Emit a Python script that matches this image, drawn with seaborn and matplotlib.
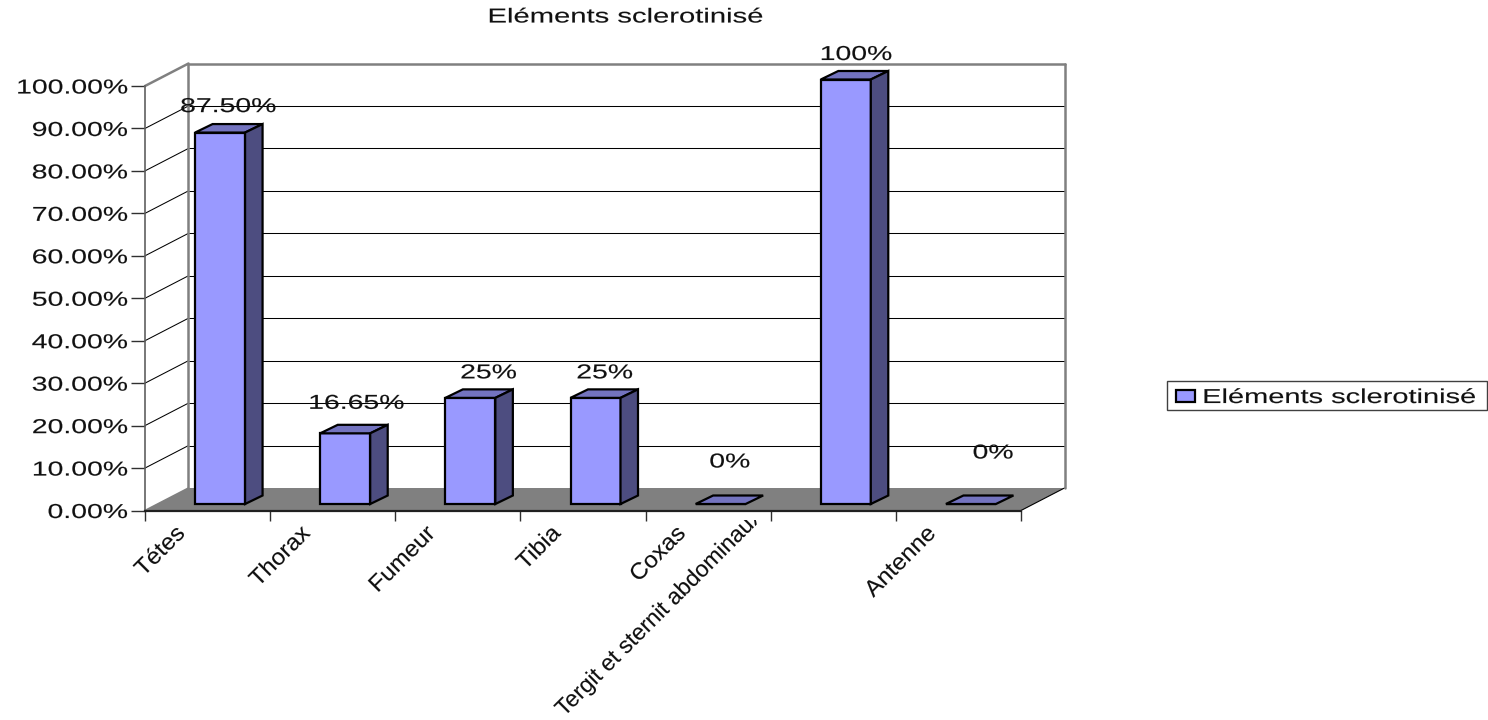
import numpy as np
import pandas as pd
import matplotlib
matplotlib.use("Agg")
import matplotlib.pyplot as plt
import seaborn as sns
from matplotlib.patches import Patch, Rectangle
from matplotlib.patheffects import AbstractPathEffect
from matplotlib.transforms import Affine2D, Bbox, ScaledTranslation

categories = ["Tétes", "Thorax", "Fumeur", "Tibia", "Coxas",
              "Tergit et sternit abdominaux", "Antenne"]
values = [87.5, 16.65, 25, 25, 0, 100, 0]
value_labels = ["87.50%", "16.65%", "25%", "25%", "0%", "100%", "0%"]
y_levels = [0, 10, 20, 30, 40, 50, 60, 70, 80, 90, 100]
series_name = "Eléments sclerotinisé"

# layout, in pixels
W, H = 1488, 720
LEFT, RIGHT, BOTTOM, TOP = 145, 1021, 510.5, 86
WALL_DX, WALL_DY = 43.5, 22.5
BAR_DX, BAR_DY = 12.5, 6.5
DEPTH_DX, DEPTH_DY = 17.5, 8.5
BAR_W = 50
label_shift_x = [8, 11, 18, 9, 9, 10, 22]
label_shift_y = [26, 30, 25, 25, 42, 25, 51]

FRONT, SIDE, TOPC = "#9999FF", "#4D4D80", "#7373BF"
GREY = "#808080"
FS = 14.5
FS_CAT = 16.5


class Stretch(AbstractPathEffect):
    """Widen glyphs along the baseline, keeping one end of the text fixed."""
    def __init__(self, fx, anchor=0.5, weight=0.1):
        super().__init__()
        self.fx, self.anchor, self.weight = fx, anchor, weight

    def draw_path(self, renderer, gc, tpath, affine, rgbFace=None):
        a = tpath.get_extents().x1 * self.anchor
        t = Affine2D().translate(-a, 0).scale(self.fx, 1).translate(a, 0)
        gc0 = renderer.new_gc()
        gc0.copy_properties(gc)
        gc0.set_linewidth(self.weight)
        gc0.set_foreground(rgbFace)
        renderer.draw_path(gc0, tpath, t + affine, rgbFace)
        gc0.restore()


sns.set_style("white")
plt.rcParams["font.family"] = ["Liberation Sans", "DejaVu Sans"]

fig = plt.figure(figsize=(W / 100, H / 100), dpi=100)
ax = fig.add_axes([LEFT / W, 1 - BOTTOM / H, (RIGHT - LEFT) / W, (BOTTOM - TOP) / H])
ax.set_facecolor("none")

df = pd.DataFrame({"part": categories, "value": values})
sns.barplot(data=df, x="part", y="value", color=FRONT, saturation=1,
            width=BAR_W / ((RIGHT - LEFT) / 7), edgecolor="black", linewidth=1.6,
            ax=ax, zorder=3)
ax.set_xlim(-0.5, 6.5)
ax.set_ylim(0, 100)
ax.set_xlabel("")
ax.set_ylabel("")

ux = 7 / (RIGHT - LEFT)       # data units per pixel, x
uy = 100 / (BOTTOM - TOP)     # data units per pixel, y

# floor
x0, x1 = -0.5, 6.5
wx, wy = WALL_DX * ux, WALL_DY * uy
ax.fill([x0, x0 + wx, x1 + wx, x1], [0, wy, wy, 0], color=GREY, lw=0, zorder=0.5, clip_on=False)
ax.plot([x1, x1 + wx], [0, wy], color="black", lw=0.8, zorder=1, clip_on=False)
ax.plot([x0, x0 + wx], [0, wy], color=GREY, lw=1.2, zorder=1, clip_on=False)

# back wall rules and side wall rules
for lv in y_levels[1:-1]:
    ax.plot([x0 + wx, x1 + wx], [lv + wy, lv + wy], color="black", lw=0.75, zorder=1, clip_on=False)
    ax.plot([x0, x0 + wx], [lv, lv + wy], color="black", lw=0.75, zorder=1, clip_on=False)
ax.plot([x0, x0 + wx, x0 + wx], [100, 100 + wy, wy], color=GREY, lw=1.8, zorder=1, clip_on=False)
ax.plot([x1 + wx, x1 + wx], [wy, 100 + wy], color=GREY, lw=1.8, zorder=1, clip_on=False)
ax.plot([x0 + wx, x1 + wx], [100 + wy, 100 + wy], color=GREY, lw=1.8, zorder=1, clip_on=False)

# 3D bars
bdx, bdy = BAR_DX * ux, BAR_DY * uy
ddx, ddy = DEPTH_DX * ux, DEPTH_DY * uy
for i, bar in enumerate(ax.patches[:len(values)]):
    bar.set_x(bar.get_x() + bdx)
    bar.set_y(bar.get_y() + bdy)
    bar.set_clip_on(False)
    bx, by, bw, bh = bar.get_x(), bar.get_y(), bar.get_width(), bar.get_height()
    ax.fill([bx, bx + ddx, bx + bw + ddx, bx + bw], [by + bh, by + bh + ddy, by + bh + ddy, by + bh],
            facecolor=TOPC, edgecolor="black", lw=1.6, zorder=3, clip_on=False)
    if bh > 0:
        ax.fill([bx + bw, bx + bw + ddx, bx + bw + ddx, bx + bw],
                [by, by + ddy, by + bh + ddy, by + bh],
                facecolor=SIDE, edgecolor="black", lw=1.6, zorder=3, clip_on=False)
    t = ax.annotate(value_labels[i], (bx + bw / 2, by + bh),
                    xytext=(label_shift_x[i] * 0.72, label_shift_y[i] * 0.72),
                    textcoords="offset points", ha="center", va="center",
                    fontsize=FS, color="#111111", zorder=6, annotation_clip=False)
    t.set_path_effects([Stretch(1.41, 0.5)])

# axes
for s in ("top", "right"):
    ax.spines[s].set_visible(False)
ax.spines["left"].set_color("#606060")
ax.spines["left"].set_linewidth(1.2)
ax.spines["bottom"].set_color("#202020")
ax.spines["bottom"].set_linewidth(1.6)
ax.set_yticks(y_levels, [f"{v:.2f}%" for v in y_levels])
ax.tick_params(axis="y", left=True, length=10, width=1, color="#303030",
               labelsize=FS, labelcolor="#111111", pad=2.5)
for lab in ax.get_yticklabels():
    lab.set_path_effects([Stretch(1.41, 1.0)])

ax.set_xticks(np.arange(8) - 0.5, [""] * 8)
ax.tick_params(axis="x", which="major", bottom=True, length=7, width=1, color="#303030")
ax.set_xticks(np.arange(7) - 0.21, categories, minor=True)
ax.tick_params(axis="x", which="minor", bottom=False, length=0, labelsize=FS_CAT,
               labelcolor="#111111", pad=14)
for i, lab in enumerate(ax.get_xticklabels(minor=True)):
    lab.set_rotation(45)
    lab.set_ha("right")
    lab.set_va("center")
    lab.set_rotation_mode("anchor")
    if i == 5:
        # the longest label runs past the tick row and is cut there
        lab.set_path_effects([Stretch(1.0, 1.0)])
        lab.set_transform(lab.get_transform()
                          + ScaledTranslation(-0.486, 0.164, fig.dpi_scale_trans))
        lab.set_clip_box(Bbox([[0, 0], [W, H - 520]]))
        lab.set_clip_on(True)
    else:
        lab.set_path_effects([Stretch(1.05, 1.0)])

# title
title = fig.text(625.5 / W, 1 - 17 / H, series_name, ha="center", va="center",
                 fontsize=FS, color="#111111")
title.set_path_effects([Stretch(1.45, 0.5)])

# legend
fig.add_artist(Rectangle((1167 / W, 1 - 410 / H), 320 / W, 29 / H, transform=fig.transFigure,
                         facecolor="white", edgecolor="#404040", lw=1))
handle = Patch(facecolor=FRONT, edgecolor="black", lw=1.6)
leg = fig.legend(handles=[handle], labels=[series_name], frameon=False, fontsize=FS,
                 loc="center left", bbox_to_anchor=(1176 / W, 1 - 397.5 / H),
                 handlelength=0.95, handleheight=0.6, handletextpad=0.35,
                 borderpad=0, borderaxespad=0)
for t in leg.get_texts():
    t.set_color("#111111")
    t.set_path_effects([Stretch(1.44, 0.0)])

fig.savefig("out.png", dpi=100, facecolor="white")
